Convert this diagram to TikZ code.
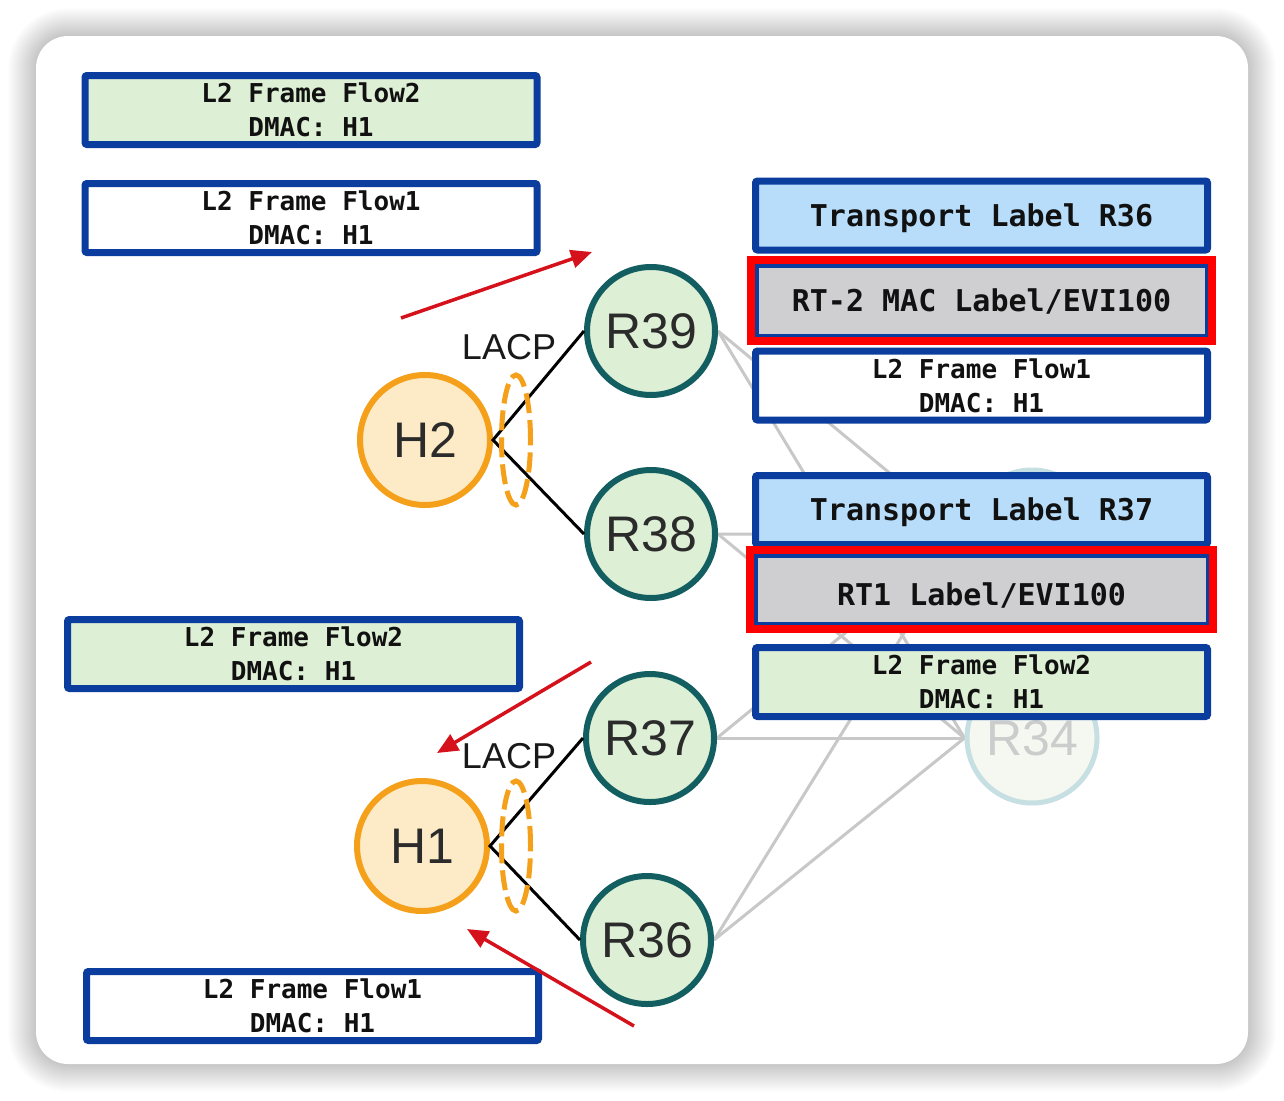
\documentclass[tikz,border=0pt]{standalone}
\usepackage{fontspec}
\setmainfont{Liberation Sans}
\newfontfamily\boxfont{DejaVu Sans Mono}
\usetikzlibrary{arrows.meta,shapes.geometric,fit}
\pgfdeclarelayer{bg}
\pgfdeclarelayer{edges}
\pgfsetlayers{bg,edges,main}
\definecolor{boxblue}{HTML}{0B3D9E}
\definecolor{flowgreen}{HTML}{DDEFD5}
\definecolor{lblblue}{HTML}{B8DDFB}
\definecolor{lblgray}{HTML}{CFCFD1}
\definecolor{hlred}{HTML}{FF0000}
\definecolor{arrred}{HTML}{D5121C}
\definecolor{hstroke}{HTML}{F5A01A}
\definecolor{hfill}{HTML}{FDEAC6}
\definecolor{rstroke}{HTML}{135E60}
\definecolor{rfill}{HTML}{DDEFD5}
\definecolor{fstroke}{HTML}{C6DFE2}
\definecolor{ffill}{HTML}{F4F8F0}
\definecolor{ftext}{HTML}{CCCCCC}
\definecolor{txtdark}{HTML}{2B2B2B}
\definecolor{txtbox}{HTML}{111111}
\definecolor{linkgray}{HTML}{C8C8C8}
\begin{document}
\begin{tikzpicture}[x=1pt,y=-1pt,
  rnode/.style={circle, draw=rstroke, fill=rfill, line width=6pt, minimum size=128pt, inner sep=0pt, text=txtdark, font=\fontsize{50}{50}\selectfont},
  hnode/.style={circle, draw=hstroke, fill=hfill, line width=6pt, minimum size=130pt, inner sep=0pt, text=txtdark, font=\fontsize{50}{50}\selectfont},
  fnode/.style={circle, draw=fstroke, fill=ffill, line width=5pt, minimum size=130pt, inner sep=0pt, text=ftext, font=\fontsize{50}{50}\selectfont},
  flowbox/.style={draw=boxblue, line width=7pt, rounded corners=2pt, minimum width=452pt, minimum height=69pt, inner sep=0pt, align=center, text=txtbox, font=\boxfont\bfseries\fontsize{26}{34}\selectfont},
  lblbox/.style={flowbox, fill=lblblue, font=\boxfont\bfseries\fontsize{30}{34}\selectfont, text height=21.9pt, text depth=0pt},
  graybox/.style={draw=boxblue, fill=lblgray, line width=5pt, minimum width=451pt, minimum height=71pt, inner sep=0pt, align=center, text=txtbox, font=\boxfont\bfseries\fontsize{30}{34}\selectfont, text height=21.9pt, text depth=0pt},
  redhl/.style={draw=hlred, line width=8pt, inner sep=2.5pt},
  link/.style={draw=linkgray, line width=3pt},
  lacpline/.style={draw=black, line width=3pt},
  lag/.style={ellipse, draw=hstroke, line width=5pt, dash pattern=on 20pt off 7pt, minimum width=29pt, minimum height=130pt, inner sep=0pt},
  lacptext/.style={text=black!90, font=\fontsize{36}{36}\selectfont, inner sep=0pt},
  flowarrow/.style={draw=arrred, line width=3.5pt, -{Triangle[length=21pt,width=18pt]}}
]
\useasboundingbox (0,0) rectangle (1284,1100);
\begin{pgfonlayer}{bg}
  \fill[white] (0,0) rectangle (1284,1100);
  \foreach \i in {1,...,28}{
    \fill[black, opacity=0.007, rounded corners={(32+\i)*1pt}] (36-\i,36-\i) rectangle (1248+\i,1064+\i);
  }
  \fill[white, rounded corners=32pt] (36,36) rectangle (1248,1064);
\end{pgfonlayer}

% faded far-side nodes
\node[fnode] (R35) at (1032,535) {};
\node[fnode] (R34) at (1032,738) {R34};

% router nodes
\node[rnode] (R39) at (651,331) {R39};
\node[rnode] (R38) at (651,534) {R38};
\node[rnode] (R37) at (650,738) {R37};
\node[rnode] (R36) at (647,940) {R36};

% hosts
\node[hnode] (H2) at (425,440) {H2};
\node[hnode] (H1) at (422,846) {H1};

% grey links
\begin{pgfonlayer}{edges}
  \foreach \r in {R39,R38,R37,R36}{
    \draw[link] (\r.east) -- (R35.west);
    \draw[link] (\r.east) -- (R34.west);
  }
\end{pgfonlayer}

% left boxes
\node[flowbox, fill=flowgreen] (lf2a) at (311,110) {L2 Frame Flow2\\DMAC: H1};
\node[flowbox, fill=white] (lf1a) at (311,218) {L2 Frame Flow1\\DMAC: H1};
\node[flowbox, fill=flowgreen] (lf2b) at (293.5,654) {L2 Frame Flow2\\DMAC: H1};
\node[flowbox, fill=white] (lf1b) at (312.5,1006) {L2 Frame Flow1\\DMAC: H1};

% right label stacks
\node[lblbox] (tl36) at (981.5,215.5) {Transport Label R36};
\node[graybox] (rt2) at (981.5,300.5) {RT-2 MAC Label/EVI100};
\node[redhl, fit=(rt2)] (rt2hl) {};
\node[flowbox, fill=white] (rf1) at (981.5,385.5) {L2 Frame Flow1\\DMAC: H1};

\node[lblbox] (tl37) at (981.5,510) {Transport Label R37};
\node[graybox, minimum width=453pt, minimum height=69pt] (rt1) at (981.5,589.5) {\raisebox{-5pt}{RT1 Label/EVI100}};
\node[redhl, fit=(rt1)] (rt1hl) {};
\node[flowbox, fill=flowgreen] (rf2) at (981.5,682) {L2 Frame Flow2\\DMAC: H1};

% LACP links
\draw[lacpline] (R39.west) -- (H2.east) -- (R38.west);
\draw[lacpline] (R37.west) -- (H1.east) -- (R36.west);

% LAG ellipses and labels
\node[lag] (lag2) at (516,440) {};
\node[lag] (lag1) at (516,846) {};
\node[lacptext] (lacp2) at (509,347) {LACP};
\node[lacptext] (lacp1) at (509,756) {LACP};

% flow arrows
\coordinate (a1s) at (401,318);
\coordinate (a1e) at (592,252);
\coordinate (a2s) at (591,662);
\coordinate (a2e) at (437,753);
\coordinate (a3s) at (634,1026);
\coordinate (a3e) at (467,929);
\draw[flowarrow] (a1s) -- (a1e);
\draw[flowarrow] (a2s) -- (a2e);
\draw[flowarrow] (a3s) -- (a3e);
\end{tikzpicture}
\end{document}
